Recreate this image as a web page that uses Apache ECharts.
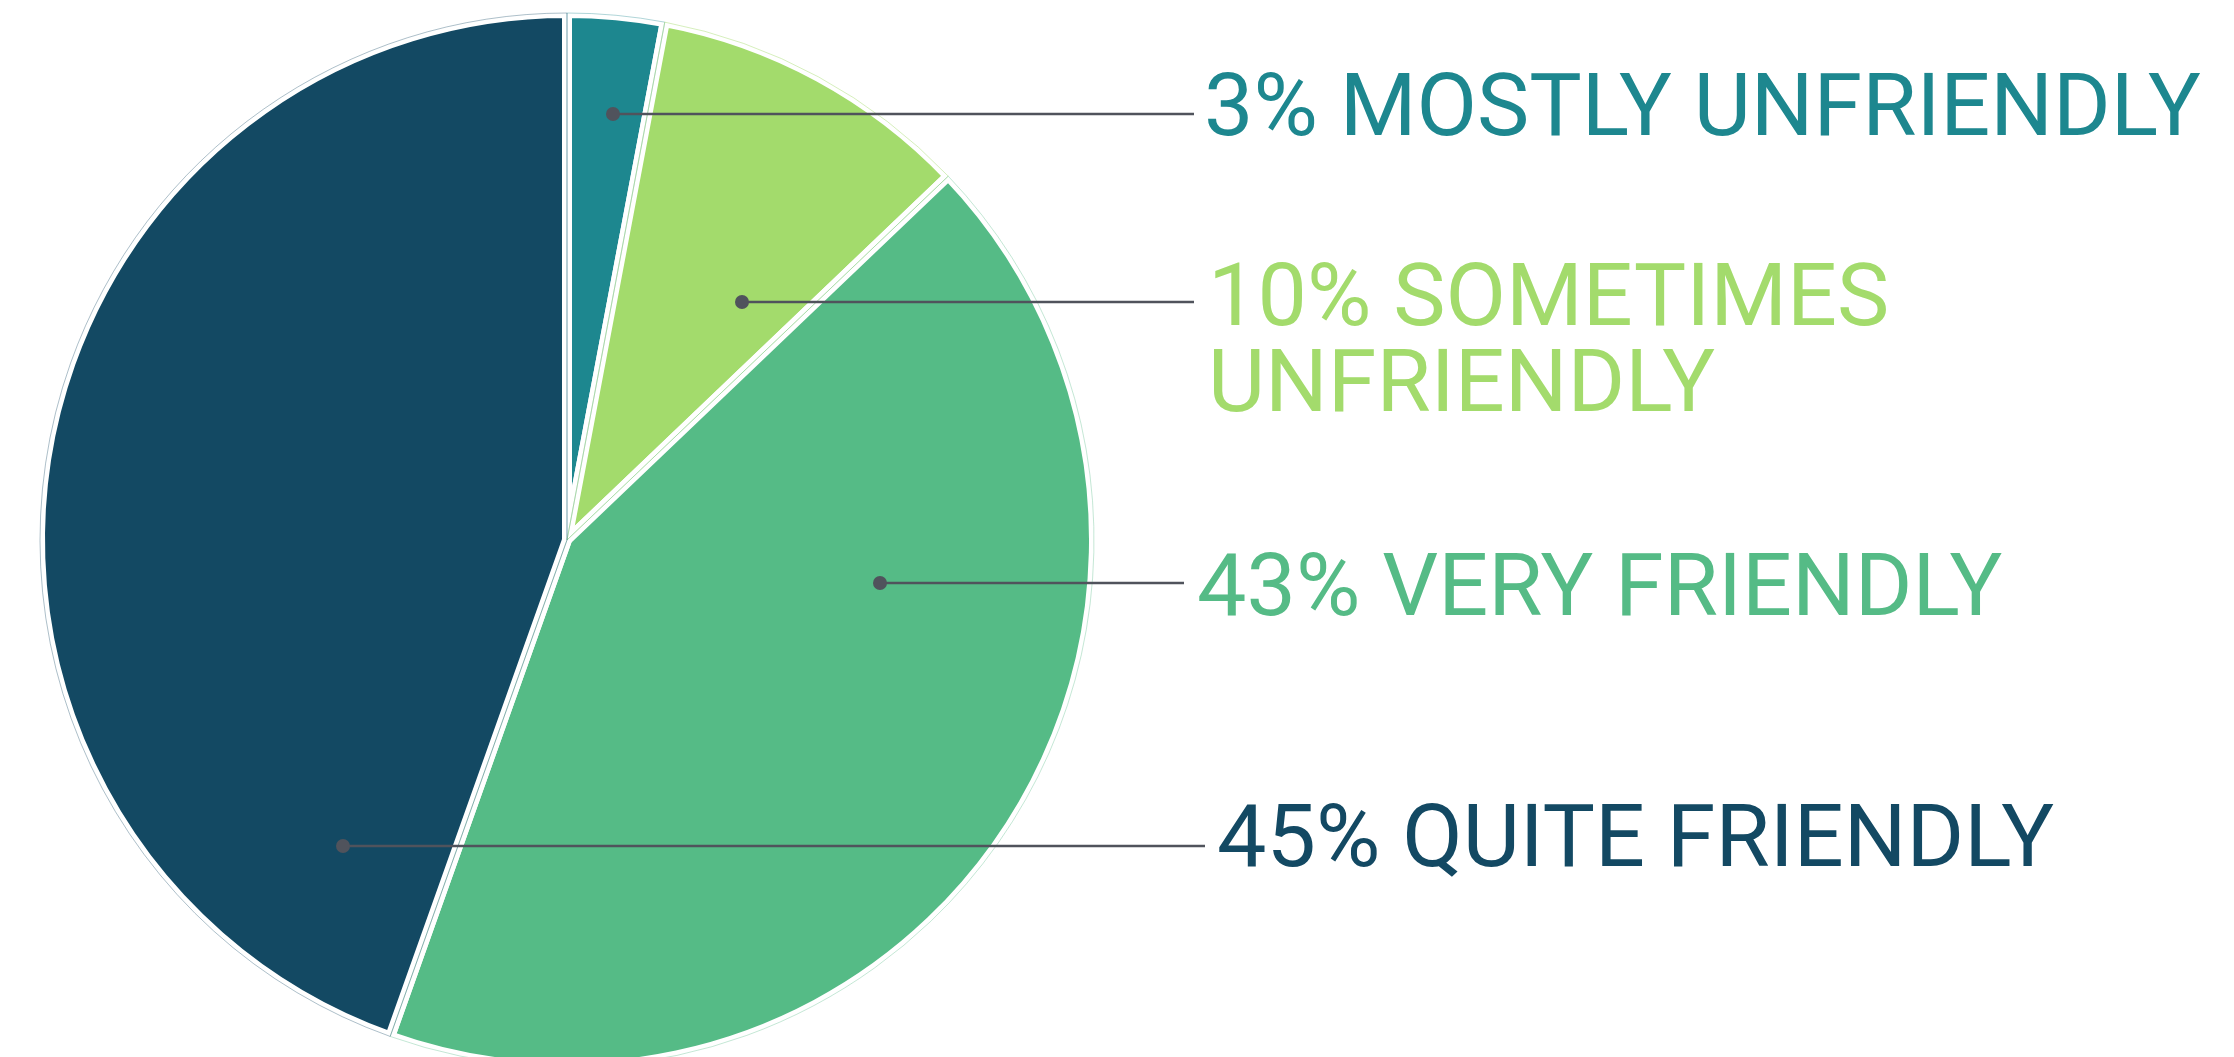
<!DOCTYPE html>
<html>
<head>
<meta charset="utf-8">
<title>Friendliness</title>
<script src="https://cdn.jsdelivr.net/npm/echarts@6/dist/echarts.min.js"></script>
<style>
  html, body { margin: 0; padding: 0; background: #ffffff; }
  #chart { width: 2234px; height: 1057px; }
</style>
</head>
<body>
<div id="chart"></div>
<script>
// Survey answers, clockwise from 12 o'clock
const categories = ['MOSTLY UNFRIENDLY', 'SOMETIMES UNFRIENDLY', 'VERY FRIENDLY', 'QUITE FRIENDLY'];
const shares = [3, 10, 43, 45];

// Slice / label colours
const sliceColors = ['#1d878f', '#a3db6c', '#55bb86', '#134963'];
const ringColors = ['rgba(29,135,143,0.35)', 'rgba(163,219,108,0.45)', 'rgba(85,187,134,0.35)', 'rgba(19,73,99,0.35)'];

// Callout layout: dot inside the slice, leader line end, text anchor (pixels)
const callouts = [
  { dotX: 613, lineY: 114, lineEnd: 1194, textX: 1204, textY: 113 },
  { dotX: 742, lineY: 302, lineEnd: 1194, textX: 1208, textY: 346 },
  { dotX: 880, lineY: 583, lineEnd: 1184, textX: 1197, textY: 593 },
  { dotX: 343, lineY: 846, lineEnd: 1205, textX: 1217, textY: 844 }
];

const PIE_CENTER = [567, 540];
const PIE_RADIUS = 527;
const LEADER_COLOR = '#50535c';

const chart = echarts.init(document.getElementById('chart'), null, { renderer: 'canvas' });

const sliceData = categories.map((name, i) => ({
  name: name,
  value: shares[i],
  itemStyle: { color: sliceColors[i] },
  label: Object.assign(
    { color: sliceColors[i] },
    i === 1 ? { width: 760, overflow: 'break' } : {}
  )
}));

const ringData = categories.map((name, i) => ({
  name: name,
  value: shares[i],
  itemStyle: { borderColor: ringColors[i] }
}));

// leader lines and their end dots
const leaderGraphics = [];
callouts.forEach(c => {
  leaderGraphics.push({
    type: 'line',
    z: 100,
    shape: { x1: c.dotX, y1: c.lineY, x2: c.lineEnd, y2: c.lineY },
    style: { stroke: LEADER_COLOR, lineWidth: 2.5 }
  });
  leaderGraphics.push({
    type: 'circle',
    z: 101,
    shape: { cx: c.dotX, cy: c.lineY, r: 7 },
    style: { fill: LEADER_COLOR }
  });
});

chart.setOption({
  backgroundColor: '#ffffff',
  animation: false,
  series: [
    {
      type: 'pie',
      center: PIE_CENTER,
      radius: PIE_RADIUS,
      startAngle: 90,
      clockwise: true,
      avoidLabelOverlap: false,
      itemStyle: { borderColor: '#ffffff', borderWidth: 10 },
      label: {
        show: true,
        position: 'outside',
        fontFamily: 'Roboto',
        fontSize: 88,
        lineHeight: 86,
        formatter: p => p.value + '% ' + p.name
      },
      labelLine: { show: false },
      labelLayout: function (params) {
        const c = callouts[params.dataIndex];
        return { x: c.textX, y: c.textY, align: 'left', verticalAlign: 'middle' };
      },
      emphasis: { disabled: true },
      data: sliceData
    },
    {
      // thin tinted outline running through the white gaps
      type: 'pie',
      center: PIE_CENTER,
      radius: PIE_RADIUS,
      startAngle: 90,
      clockwise: true,
      silent: true,
      z: 3,
      itemStyle: { color: 'rgba(0,0,0,0)', borderWidth: 1 },
      label: { show: false },
      labelLine: { show: false },
      emphasis: { disabled: true },
      data: ringData
    }
  ],
  graphic: leaderGraphics
});
</script>
</body>
</html>
